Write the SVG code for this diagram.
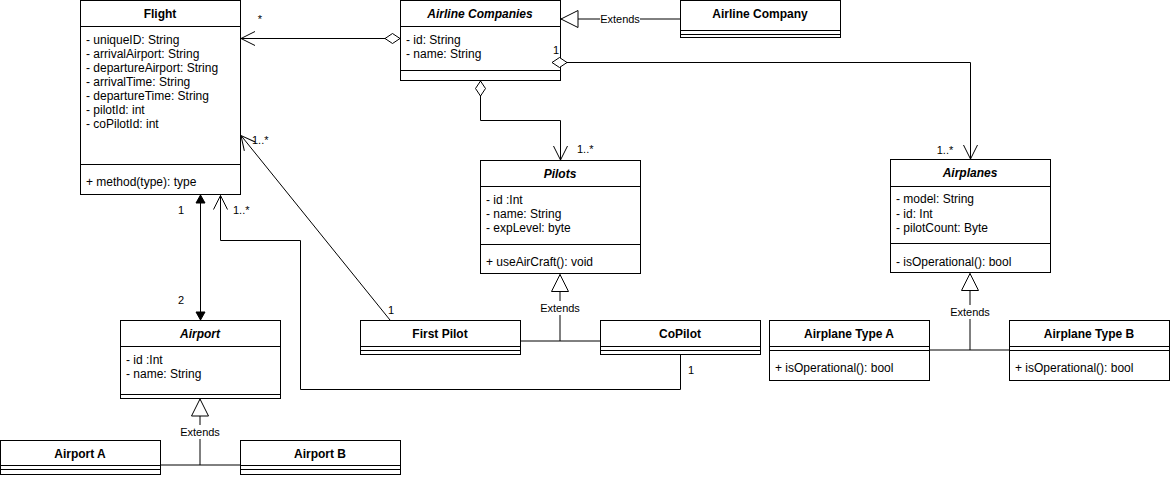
<svg xmlns="http://www.w3.org/2000/svg" width="1170" height="485" viewBox="0 0 1170 485">
<style>
text{font-family:"Liberation Sans",Arial,sans-serif;font-size:12px;fill:#000}
.t{font-weight:bold;text-anchor:middle}
.i{font-style:italic}
.l{font-size:11px}
.c{text-anchor:middle}
.box{fill:#fff;stroke:#000;stroke-width:1}
.ln{stroke:#000;stroke-width:1;fill:none}
.bg{fill:#fff}
</style>
<defs>
<marker id="open" markerUnits="userSpaceOnUse" markerWidth="20" markerHeight="20" refX="14" refY="7" orient="auto" overflow="visible">
<path d="M0,0 L14,7 L0,14" fill="none" stroke="#000" stroke-width="1"/>
</marker>
<marker id="fill" markerUnits="userSpaceOnUse" markerWidth="12" markerHeight="12" refX="8" refY="4.5" orient="auto-start-reverse" overflow="visible">
<path d="M0,0 L8,4.5 L0,9 z" fill="#000" stroke="#000" stroke-width="1"/>
</marker>
<marker id="dia" markerUnits="userSpaceOnUse" markerWidth="20" markerHeight="12" refX="0" refY="5" orient="auto" overflow="visible">
<path d="M0,5 L7.5,0 L15,5 L7.5,10 z" fill="#fff" stroke="#000" stroke-width="1"/>
</marker>
<marker id="tri" markerUnits="userSpaceOnUse" markerWidth="20" markerHeight="20" refX="17" refY="8.5" orient="auto" overflow="visible">
<path d="M0,0 L17,8.5 L0,17 z" fill="#fff" stroke="#000" stroke-width="1"/>
</marker>
</defs>

<g id="flight">
<rect class="box" x="80.5" y="0.5" width="160" height="194"/>
<path class="ln" d="M80.5,26.5 H240.5 M80.5,164.5 H240.5"/>
<text class="t" x="160" y="18">Flight</text>
<text x="86" y="44">- uniqueID: String</text>
<text x="86" y="58">- arrivalAirport: String</text>
<text x="86" y="72">- departureAirport: String</text>
<text x="86" y="86">- arrivalTime: String</text>
<text x="86" y="100">- departureTime: String</text>
<text x="86" y="114">- pilotId: int</text>
<text x="86" y="128">- coPilotId: int</text>
<text x="86" y="186">+ method(type): type</text>
</g>

<g id="airline-companies">
<rect class="box" x="400.5" y="0.5" width="160" height="80"/>
<path class="ln" d="M400.5,26.5 H560.5 M400.5,70.5 H560.5"/>
<text class="t i" x="480" y="18">Airline Companies</text>
<text x="406" y="44">- id: String</text>
<text x="406" y="58">- name: String</text>
</g>

<g id="airline-company">
<rect class="box" x="680.5" y="0.5" width="160" height="37"/>
<path class="ln" d="M680.5,30.5 H840.5 M680.5,34.5 H840.5"/>
<text class="t" x="760" y="18">Airline Company</text>
</g>

<g id="pilots">
<rect class="box" x="480.5" y="160.5" width="160" height="113"/>
<path class="ln" d="M480.5,186.5 H640.5 M480.5,244.5 H640.5"/>
<text class="t i" x="560" y="178">Pilots</text>
<text x="486" y="204">- id :Int</text>
<text x="486" y="218">- name: String</text>
<text x="486" y="232">- expLevel: byte</text>
<text x="486" y="266">+ useAirCraft(): void</text>
</g>

<g id="airplanes">
<rect class="box" x="890.5" y="159.5" width="160" height="113"/>
<path class="ln" d="M890.5,186.5 H1050.5 M890.5,243.5 H1050.5"/>
<text class="t i" x="970" y="177">Airplanes</text>
<text x="896" y="203">- model: String</text>
<text x="896" y="218">- id: Int</text>
<text x="896" y="232">- pilotCount: Byte</text>
<text x="896" y="266">- isOperational(): bool</text>
</g>

<g id="airport">
<rect class="box" x="120.5" y="320.5" width="160" height="78"/>
<path class="ln" d="M120.5,346.5 H280.5 M120.5,394.5 H280.5"/>
<text class="t i" x="200" y="338">Airport</text>
<text x="126" y="364">- id :Int</text>
<text x="126" y="378">- name: String</text>
</g>

<g id="airport-a">
<rect class="box" x="0.5" y="440.5" width="160" height="34"/>
<path class="ln" d="M0.5,465.5 H160.5 M0.5,469.5 H160.5"/>
<text class="t" x="80" y="458">Airport A</text>
</g>

<g id="airport-b">
<rect class="box" x="240.5" y="440.5" width="160" height="34"/>
<path class="ln" d="M240.5,465.5 H400.5 M240.5,469.5 H400.5"/>
<text class="t" x="320" y="458">Airport B</text>
</g>

<g id="first-pilot">
<rect class="box" x="360.5" y="320.5" width="160" height="34"/>
<path class="ln" d="M360.5,346.5 H520.5 M360.5,350.5 H520.5"/>
<text class="t" x="440" y="338">First Pilot</text>
</g>

<g id="copilot">
<rect class="box" x="600.5" y="320.5" width="160" height="34"/>
<path class="ln" d="M600.5,346.5 H760.5 M600.5,350.5 H760.5"/>
<text class="t" x="680" y="338">CoPilot</text>
</g>

<g id="airplane-type-a">
<rect class="box" x="769.5" y="320.5" width="160" height="60"/>
<path class="ln" d="M769.5,346.5 H929.5 M769.5,350.5 H929.5"/>
<text class="t" x="849" y="338">Airplane Type A</text>
<text x="775" y="372">+ isOperational(): bool</text>
</g>

<g id="airplane-type-b">
<rect class="box" x="1009.5" y="320.5" width="160" height="60"/>
<path class="ln" d="M1009.5,346.5 H1169.5 M1009.5,350.5 H1169.5"/>
<text class="t" x="1089" y="338">Airplane Type B</text>
<text x="1015" y="372">+ isOperational(): bool</text>
</g>

<g id="connectors">
<path class="ln" d="M400,38.5 H241" marker-start="url(#dia)" marker-end="url(#open)"/>
<path class="ln" d="M552,62.5 H970.5 V159" marker-start="url(#dia)" marker-end="url(#open)"/>
<path class="ln" d="M480.5,81 V120.5 H560.5 V160" marker-start="url(#dia)" marker-end="url(#open)"/>
<path class="ln" d="M680,19 H561" marker-end="url(#tri)"/>
<path class="ln" d="M520,341 H600 M560,341 V274.5" marker-end="url(#tri)"/>
<path class="ln" d="M929,350 H1009 M970,350 V273.5" marker-end="url(#tri)"/>
<path class="ln" d="M160,465 H240 M200,465 V399" marker-end="url(#tri)"/>
<path class="ln" d="M200.5,195 V320" marker-start="url(#fill)" marker-end="url(#fill)"/>
<path class="ln" d="M680.5,354 V389.5 H300.5 V240.5 H220.5 V195.5" marker-end="url(#open)"/>
<path class="ln" d="M390,320 L241,135.5" marker-end="url(#open)"/>
<rect class="bg" x="600" y="12" width="40" height="14"/>
<text class="l c" x="620" y="23">Extends</text>
<rect class="bg" x="540" y="301" width="40" height="14"/>
<text class="l c" x="560" y="312">Extends</text>
<rect class="bg" x="950" y="305" width="40" height="14"/>
<text class="l c" x="970" y="316">Extends</text>
<rect class="bg" x="180" y="425" width="40" height="14"/>
<text class="l c" x="200" y="436">Extends</text>
<text class="l c" x="260" y="23">*</text>
<text class="l c" x="556" y="54">1</text>
<text class="l c" x="945" y="154">1..*</text>
<text class="l" x="577" y="153">1..*</text>
<text class="l" x="252" y="144">1..*</text>
<text class="l" x="233" y="214">1..*</text>
<text class="l c" x="181" y="214">1</text>
<text class="l c" x="181" y="304">2</text>
<text class="l c" x="391" y="314">1</text>
<text class="l c" x="691" y="374">1</text>
</g>
</svg>
